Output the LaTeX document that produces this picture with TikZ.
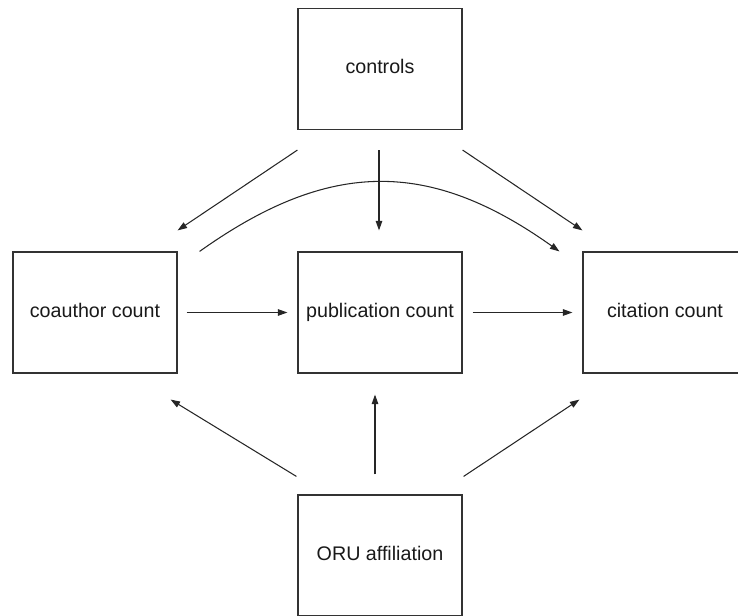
\documentclass[tikz,border=0pt]{standalone}
\usepackage{fontspec}
\setmainfont{Liberation Sans}
\usepackage{tikz}
\usetikzlibrary{arrows.meta,positioning,calc}

\begin{document}
\begin{tikzpicture}[
    box/.style={draw=black!80, line width=0.65pt, rectangle, minimum width=3.28cm, minimum height=2.42cm, text height=1.6ex, text depth=0.6ex, font=\fontsize{11.2}{13}\selectfont, text=black!90},
    arr/.style={-{Triangle[length=1.9mm,width=1.3mm]}, line width=0.6pt, black!85}
  ]
  \useasboundingbox (0,0) rectangle (14.76,12.3);

  %% Boxes
  \node[box] (controls) at (7.6,10.92) {controls};
  \node[box] (coauthor) at (1.9,6.05) {coauthor count};
  \node[box] (pub) at (7.6,6.05) {publication count};
  \node[box] (cite) at (13.3,6.05) {citation count};
  \node[box] (oru) at (7.6,1.19) {ORU affiliation};

  %% From controls
  \draw[arr] ($(controls.south west)+(0,-0.4)$) -- ($(coauthor.north east)+(0,0.42)$);
  \draw[arr] ($(controls.south)+(-0.02,-0.4)$) -- ($(pub.north)+(-0.02,0.42)$);
  \draw[arr] ($(controls.south east)+(0,-0.4)$) -- ($(cite.north west)+(0,0.42)$);

  %% Coauthor to citation
  \draw[arr] ($(coauthor.north east)+(0.44,0)$) .. controls +(2.6,1.85) and +(-2.6,1.85) .. ($(cite.north west)+(-0.46,0)$);

  %% Middle row
  \draw[arr, shorten <=0.18cm, shorten >=0.2cm] (coauthor) -- (pub);
  \draw[arr, shorten <=0.2cm, shorten >=0.2cm] (pub) -- (cite);

  %% From ORU affiliation
  \draw[arr] ($(oru.north west)+(-0.02,0.36)$) -- ($(coauthor.south east)+(-0.14,-0.52)$);
  \draw[arr] ($(oru.north)+(-0.1,0.4)$) -- ($(pub.south)+(-0.1,-0.42)$);
  \draw[arr] ($(oru.north east)+(0.02,0.36)$) -- ($(cite.south west)+(-0.06,-0.52)$);
\end{tikzpicture}
\end{document}
